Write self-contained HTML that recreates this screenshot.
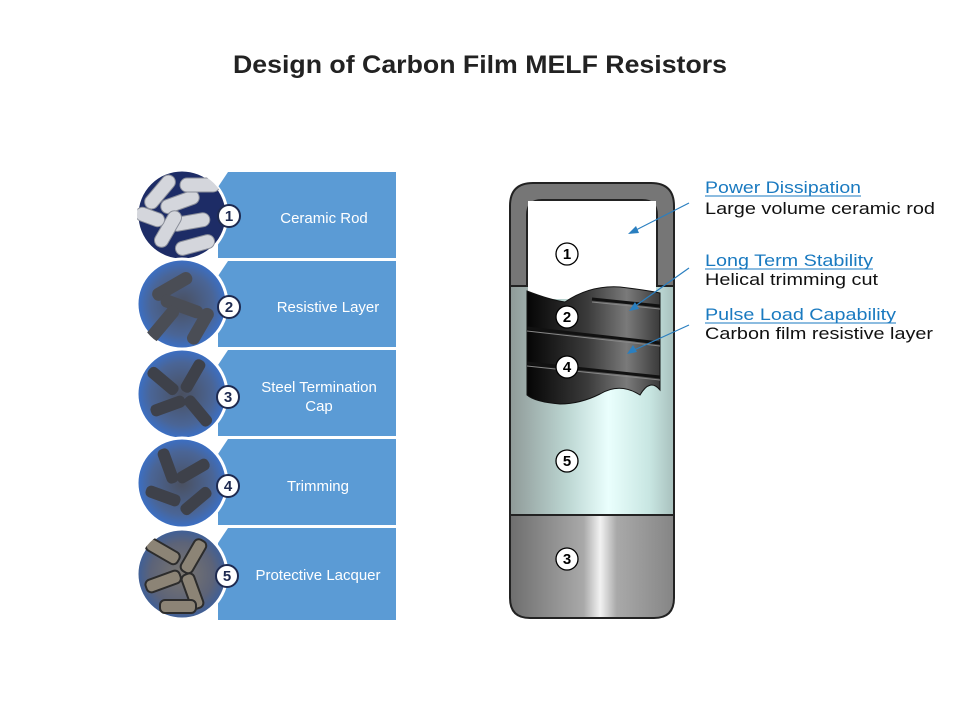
<!DOCTYPE html>
<html><head><meta charset="utf-8"><style>
html,body{margin:0;padding:0;background:#fff;}
svg{display:block;}
</style></head><body>
<svg width="960" height="720" viewBox="0 0 960 720" xmlns="http://www.w3.org/2000/svg" font-family="Liberation Sans, Arial, sans-serif">
<defs>
 <radialGradient id="c2" cx="50%" cy="50%" r="50%"><stop offset="0" stop-color="#4a5060"/><stop offset="0.7" stop-color="#4a6596"/><stop offset="1" stop-color="#3a70c8"/></radialGradient>
 <radialGradient id="c5" cx="50%" cy="50%" r="50%"><stop offset="0" stop-color="#7a7670"/><stop offset="0.7" stop-color="#5c6378"/><stop offset="1" stop-color="#3d5f9a"/></radialGradient>
 <linearGradient id="lac" x1="0" x2="1"><stop offset="0" stop-color="#8f9a98"/><stop offset="0.35" stop-color="#bcd6d2"/><stop offset="0.6" stop-color="#eafffd"/><stop offset="0.85" stop-color="#c8e6e2"/><stop offset="1" stop-color="#a8c0bd"/></linearGradient>
 <linearGradient id="cap" x1="0" x2="1"><stop offset="0" stop-color="#6e6e6e"/><stop offset="0.45" stop-color="#a9a9a9"/><stop offset="0.55" stop-color="#f2f2f2"/><stop offset="0.65" stop-color="#a9a9a9"/><stop offset="1" stop-color="#858585"/></linearGradient>
 <linearGradient id="film" x1="0" x2="1"><stop offset="0" stop-color="#050505"/><stop offset="0.45" stop-color="#3a3a3a"/><stop offset="0.75" stop-color="#7a7a7a"/><stop offset="1" stop-color="#3a3a3a"/></linearGradient>
 <clipPath id="k1"><circle cx="182" cy="215" r="45"/></clipPath>
 <clipPath id="k2"><circle cx="182" cy="304" r="45"/></clipPath>
 <clipPath id="k3"><circle cx="182" cy="394" r="45"/></clipPath>
 <clipPath id="k4"><circle cx="182" cy="483" r="45"/></clipPath>
 <clipPath id="k5"><circle cx="182" cy="574" r="45"/></clipPath>
</defs>
<text x="480" y="73" text-anchor="middle" font-size="25" font-weight="bold" fill="#222" textLength="494" lengthAdjust="spacingAndGlyphs">Design of Carbon Film MELF Resistors</text>

<g fill="#5b9bd5">
 <path d="M228 172 H396 V258 H218 V187 Z"/>
 <path d="M228 261 H396 V347 H218 V276 Z"/>
 <path d="M228 350 H396 V436 H218 V365 Z"/>
 <path d="M228 439 H396 V525 H218 V454 Z"/>
 <path d="M228 528 H396 V620 H218 V543 Z"/>
</g>
<g fill="#fff" font-size="15" text-anchor="middle">
 <text x="324" y="223">Ceramic Rod</text>
 <text x="328" y="312">Resistive Layer</text>
 <text x="319" y="392">Steel Termination</text>
 <text x="319" y="411">Cap</text>
 <text x="318" y="491">Trimming</text>
 <text x="318" y="580">Protective Lacquer</text>
</g>
<g stroke="#fff" stroke-width="3">
 <circle cx="182" cy="215" r="45" fill="#1d2c66"/>
 <circle cx="182" cy="304" r="45" fill="url(#c2)"/>
 <circle cx="182" cy="394" r="45" fill="url(#c2)"/>
 <circle cx="182" cy="483" r="45" fill="url(#c2)"/>
 <circle cx="182" cy="574" r="45" fill="url(#c5)"/>
</g>
<g clip-path="url(#k1)" fill="#d4d6dc" stroke="#8a8e99" stroke-width="1">
 <rect x="140" y="185" width="40" height="14" rx="7" transform="rotate(-50 160 192)"/>
 <rect x="160" y="195" width="40" height="14" rx="7" transform="rotate(-20 180 202)"/>
 <rect x="170" y="215" width="40" height="14" rx="7" transform="rotate(-10 190 222)"/>
 <rect x="148" y="222" width="40" height="14" rx="7" transform="rotate(-60 168 229)"/>
 <rect x="180" y="178" width="40" height="14" rx="7"/>
 <rect x="135" y="210" width="30" height="14" rx="7" transform="rotate(20 150 217)"/>
 <rect x="175" y="238" width="40" height="14" rx="7" transform="rotate(-15 195 245)"/>
</g>
<g clip-path="url(#k2)" fill="#4a4d55">
 <rect x="150" y="280" width="44" height="13" rx="6" transform="rotate(-30 172 286)"/>
 <rect x="160" y="300" width="44" height="13" rx="6" transform="rotate(20 182 306)"/>
 <rect x="140" y="318" width="44" height="13" rx="6" transform="rotate(-50 162 324)"/>
 <rect x="180" y="320" width="40" height="13" rx="6" transform="rotate(-60 200 326)"/>
</g>
<g clip-path="url(#k3)" fill="#3e414a">
 <rect x="145" y="375" width="36" height="12" rx="5" transform="rotate(40 163 381)"/>
 <rect x="175" y="370" width="36" height="12" rx="5" transform="rotate(-60 193 376)"/>
 <rect x="150" y="400" width="36" height="12" rx="5" transform="rotate(-20 168 406)"/>
 <rect x="180" y="405" width="36" height="12" rx="5" transform="rotate(50 198 411)"/>
</g>
<g clip-path="url(#k4)" fill="#3e414a">
 <rect x="150" y="460" width="36" height="12" rx="5" transform="rotate(70 168 466)"/>
 <rect x="175" y="465" width="36" height="12" rx="5" transform="rotate(-30 193 471)"/>
 <rect x="145" y="490" width="36" height="12" rx="5" transform="rotate(20 163 496)"/>
 <rect x="178" y="495" width="36" height="12" rx="5" transform="rotate(-40 196 501)"/>
</g>
<g clip-path="url(#k5)" fill="#8c8476" stroke="#2c2c2c" stroke-width="2">
 <rect x="145" y="545" width="36" height="13" rx="5" transform="rotate(30 163 551)"/>
 <rect x="175" y="550" width="36" height="13" rx="5" transform="rotate(-60 193 556)"/>
 <rect x="145" y="575" width="36" height="13" rx="5" transform="rotate(-20 163 581)"/>
 <rect x="175" y="585" width="36" height="13" rx="5" transform="rotate(70 193 591)"/>
 <rect x="160" y="600" width="36" height="13" rx="5"/>
</g>
<g stroke="#1e2a50" stroke-width="2" fill="#fff">
 <circle cx="229" cy="216" r="11"/><circle cx="229" cy="307" r="11"/><circle cx="228" cy="397" r="11"/><circle cx="228" cy="486" r="11"/><circle cx="227" cy="576" r="11"/>
</g>
<g fill="#1e2a50" font-size="15" font-weight="bold" text-anchor="middle">
 <text x="229" y="221">1</text><text x="229" y="312">2</text><text x="228" y="402">3</text><text x="228" y="491">4</text><text x="227" y="581">5</text>
</g>

<path d="M510 286 V515 H674 V286 Z" fill="url(#lac)" stroke="#222" stroke-width="2"/>
<path d="M510 515 H674 V598 Q674 618 654 618 H530 Q510 618 510 598 Z" fill="url(#cap)" stroke="#222" stroke-width="2"/>
<path d="M510 286 V206 Q510 183 533 183 H651 Q674 183 674 206 V286 H657 V215 Q657 200 642 200 H542 Q527 200 527 215 V286 Z" fill="#767676" stroke="#222" stroke-width="2"/>
<rect x="528" y="201" width="128" height="98" fill="#fff"/>
<path d="M527 291 Q550 300 565 302 Q590 285 620 287 Q645 290 660 293 V390 Q650 378 640 395 Q620 382 600 394 Q580 404 560 404 Q535 402 527 395 Z" fill="url(#film)" stroke="#111" stroke-width="1"/>
<g stroke="#111" stroke-width="3" fill="none">
 <path d="M592 299 L660 306"/>
 <path d="M527 328 L660 343"/>
 <path d="M527 363 L660 377"/>
</g>
<g stroke="#888" stroke-width="1" fill="none">
 <path d="M592 302 L660 309"/><path d="M527 331 L660 346"/><path d="M527 366 L660 380"/>
</g>
<g stroke="#000" stroke-width="1.3" fill="#fff">
 <circle cx="567" cy="254" r="11"/><circle cx="567" cy="317" r="11"/><circle cx="567" cy="367" r="11"/><circle cx="567" cy="461" r="11"/><circle cx="567" cy="559" r="11"/>
</g>
<g font-size="15" font-weight="bold" text-anchor="middle" fill="#000">
 <text x="567" y="259">1</text><text x="567" y="322">2</text><text x="567" y="372">4</text><text x="567" y="466">5</text><text x="567" y="564">3</text>
</g>

<g stroke="#2a7fc0" stroke-width="1.2">
 <line x1="689" y1="203" x2="634" y2="231"/>
 <line x1="689" y1="268" x2="634" y2="307"/>
 <line x1="689" y1="325" x2="632" y2="351"/>
</g>
<g fill="#2a7fc0">
 <polygon points="628,234 636,226 639,233"/>
 <polygon points="629,311 635,302 639,309"/>
 <polygon points="627,354 633,345 637,352"/>
</g>
<g font-size="17">
 <text x="705" y="193" fill="#1a7ac0" textLength="156" lengthAdjust="spacingAndGlyphs">Power Dissipation</text>
 <text x="705" y="214" fill="#111" textLength="230" lengthAdjust="spacingAndGlyphs">Large volume  ceramic rod</text>
 <text x="705" y="266" fill="#1a7ac0" textLength="168" lengthAdjust="spacingAndGlyphs">Long Term Stability</text>
 <text x="705" y="285" fill="#111" textLength="173" lengthAdjust="spacingAndGlyphs">Helical  trimming  cut</text>
 <text x="705" y="320" fill="#1a7ac0" textLength="191" lengthAdjust="spacingAndGlyphs">Pulse  Load Capability</text>
 <text x="705" y="339" fill="#111" textLength="228" lengthAdjust="spacingAndGlyphs">Carbon  film  resistive  layer</text>
</g>
<g stroke="#1a7ac0" stroke-width="1">
 <line x1="705" y1="196" x2="861" y2="196"/>
 <line x1="705" y1="269" x2="873" y2="269"/>
 <line x1="705" y1="323" x2="896" y2="323"/>
</g>
</svg>
</body></html>
